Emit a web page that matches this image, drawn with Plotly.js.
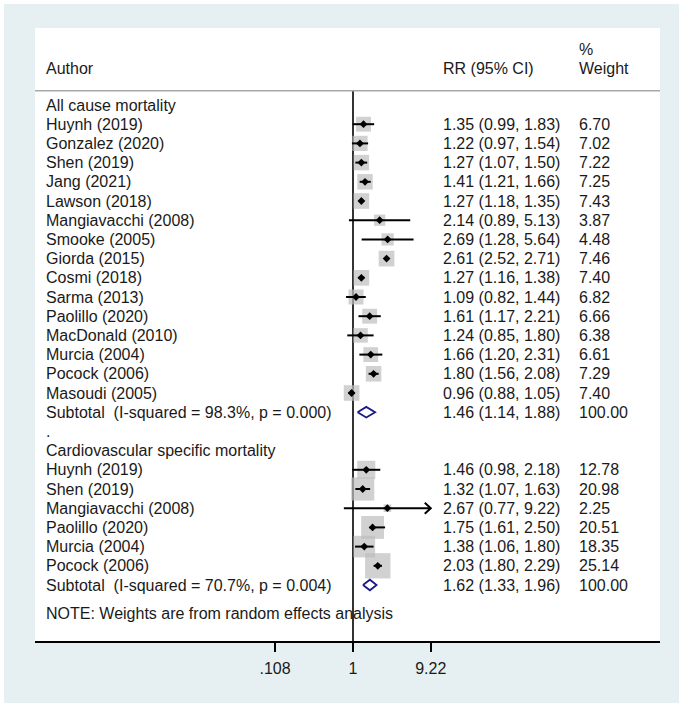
<!DOCTYPE html>
<html>
<head>
<meta charset="utf-8">
<script src="https://cdn.plot.ly/plotly-3.0.1.min.js"></script>
<style>html,body{margin:0;padding:0;background:#fff;}#chart{width:688px;height:708px;}</style>
</head>
<body>
<div id="chart"></div>
<script>
// ---------- data ----------
const group1Label = "All cause mortality";
const authors1 = ["Huynh (2019)","Gonzalez (2020)","Shen (2019)","Jang (2021)","Lawson (2018)","Mangiavacchi (2008)","Smooke (2005)","Giorda (2015)","Cosmi (2018)","Sarma (2013)","Paolillo (2020)","MacDonald (2010)","Murcia (2004)","Pocock (2006)","Masoudi (2005)"];
const rr1 = [1.35,1.22,1.27,1.41,1.27,2.14,2.69,2.61,1.27,1.09,1.61,1.24,1.66,1.80,0.96];
const lo1 = [0.99,0.97,1.07,1.21,1.18,0.89,1.28,2.52,1.16,0.82,1.17,0.85,1.20,1.56,0.88];
const hi1 = [1.83,1.54,1.50,1.66,1.35,5.13,5.64,2.71,1.38,1.44,2.21,1.80,2.31,2.08,1.05];
const w1  = [6.70,7.02,7.22,7.25,7.43,3.87,4.48,7.46,7.40,6.82,6.66,6.38,6.61,7.29,7.40];
const sub1Label = "Subtotal  (I-squared = 98.3%, p = 0.000)";
const sub1 = [1.46, 1.14, 1.88, 100.00]; // rr, lo, hi, weight

const group2Label = "Cardiovascular specific mortality";
const authors2 = ["Huynh (2019)","Shen (2019)","Mangiavacchi (2008)","Paolillo (2020)","Murcia (2004)","Pocock (2006)"];
const rr2 = [1.46,1.32,2.67,1.75,1.38,2.03];
const lo2 = [0.98,1.07,0.77,1.61,1.06,1.80];
const hi2 = [2.18,1.63,9.22,2.50,1.80,2.29];
const w2  = [12.78,20.98,2.25,20.51,18.35,25.14];
const sub2Label = "Subtotal  (I-squared = 70.7%, p = 0.004)";
const sub2 = [1.62, 1.33, 1.96, 100.00];

const noteText = "NOTE: Weights are from random effects analysis";
const tickVals = [0.108, 1, 9.22];
const tickText = [".108", "1", "9.22"];
const headAuthor = "Author", headRR = "RR (95% CI)", headPct = "%", headWeight = "Weight";

// ---------- layout geometry ----------
const W = 688, H = 708;
const plotL = 35, plotR = 660, plotT = 28, plotB = 641;
const pxPerDec = 80.6, nullPx = 353;
const rowPx = 19.2, row0Px = 105;
const pxToRow = py => (py - row0Px) / rowPx;
const pxToPaperX = px => (px - plotL) / (plotR - plotL);
const pxToPaperY = py => (plotB - py) / (plotB - plotT);
const xRange = [(plotL - nullPx) / pxPerDec, (plotR - nullPx) / pxPerDec];
const yRange = [pxToRow(plotB), pxToRow(plotT)];

const FONT = "Liberation Sans, Arial, Helvetica, sans-serif";
const TXT = "#1a1a1a";
const fmt = v => v.toFixed(2);

// build rows
const rows = [];
let r = 0;
rows.push({type:"head", label: group1Label, r: r++});
authors1.forEach((a,i) => rows.push({type:"study", label:a, rr:rr1[i], lo:lo1[i], hi:hi1[i], w:w1[i], k:5.75, r:r++}));
rows.push({type:"sub", label: sub1Label, rr:sub1[0], lo:sub1[1], hi:sub1[2], w:sub1[3], r:r++});
rows.push({type:"head", label: ".", r: r++});
rows.push({type:"head", label: group2Label, r: r++});
authors2.forEach((a,i) => rows.push({type:"study", label:a, rr:rr2[i], lo:lo2[i], hi:hi2[i], w:w2[i], k:5.05, r:r++}));
rows.push({type:"sub", label: sub2Label, rr:sub2[0], lo:sub2[1], hi:sub2[2], w:sub2[3], r:r++});
const noteRow = pxToRow(613);

const studies = rows.filter(d => d.type === "study");
const subs = rows.filter(d => d.type === "sub");

// ---------- traces ----------
const traces = [];
const lineTop = pxToRow(90.7);
// null line
traces.push({x:[1,1], y:[lineTop, yRange[0]], mode:"lines", line:{color:"#000", width:1.6}, hoverinfo:"skip"});
// weight boxes
traces.push({x: studies.map(d=>d.rr), y: studies.map(d=>d.r), mode:"markers",
  marker:{symbol:"square", color:"#bdbdbd", size: studies.map(d=>d.k*Math.sqrt(d.w)), line:{width:0}}, hoverinfo:"skip"});
// CI lines + arrows
const cx = [], cy = [];
const chev = Math.pow(10, 6/pxPerDec), chevH = 5.5/rowPx;
studies.forEach(d => {
  cx.push(d.lo, d.hi, null); cy.push(d.r, d.r, null);
  if (d.hi >= tickVals[tickVals.length-1]) {
    cx.push(d.hi/chev, d.hi, d.hi/chev, null);
    cy.push(d.r - chevH, d.r, d.r + chevH, null);
  }
});
traces.push({x:cx, y:cy, mode:"lines", line:{color:"#000", width:2}, hoverinfo:"skip", connectgaps:false});
// point estimates
traces.push({x: studies.map(d=>d.rr), y: studies.map(d=>d.r), mode:"markers",
  marker:{symbol:"diamond", color:"#000", size:6, line:{width:0}}, hoverinfo:"skip"});
// subtotal diamonds
const dh = 5.3/rowPx;
subs.forEach(d => {
  traces.push({x:[d.lo, d.rr, d.hi, d.rr, d.lo], y:[d.r, d.r-dh, d.r, d.r+dh, d.r], mode:"lines",
    line:{color:"#1a1a8a", width:1.8}, hoverinfo:"skip"});
});

// ---------- annotations ----------
const ann = [];
const xAuthor = pxToPaperX(44), xRR = pxToPaperX(441), xW = pxToPaperX(577);
function t(x, y, text) {
  ann.push({xref:"paper", yref:"y", x:x, y:y, text:text, showarrow:false, xanchor:"left", yanchor:"middle",
    font:{family:FONT, size:16, color:TXT}});
}
rows.forEach(d => {
  t(xAuthor, d.r, d.label);
  if (d.type !== "head") {
    t(xRR, d.r, fmt(d.rr) + " (" + fmt(d.lo) + ", " + fmt(d.hi) + ")");
    t(xW, d.r, fmt(d.w));
  }
});
t(xAuthor, noteRow, noteText);
t(xAuthor, pxToRow(68), headAuthor);
t(xRR, pxToRow(68), headRR);
t(xW, pxToRow(49), headPct);
t(xW, pxToRow(68), headWeight);

// ---------- shapes ----------
const shapes = [
  {type:"line", xref:"paper", yref:"y", x0:0, x1:1, y0:lineTop, y1:lineTop, line:{color:"#a8a8a8", width:1.5}, layer:"above"}
];
// outer white frame strips
const strip = (x0,x1,y0,y1) => shapes.push({type:"rect", xref:"paper", yref:"paper",
  x0:pxToPaperX(x0), x1:pxToPaperX(x1), y0:pxToPaperY(y1), y1:pxToPaperY(y0), fillcolor:"#ffffff", line:{width:0}, layer:"below"});
strip(0, 4, 0, H);
strip(679, W, 0, H);
strip(0, W, 0, 4);
strip(0, W, 703, H);

const layout = {
  width: W, height: H,
  margin: {l: plotL, r: W - plotR, t: plotT, b: H - plotB, pad: 0},
  paper_bgcolor: "#e6f0f2",
  plot_bgcolor: "#ffffff",
  showlegend: false,
  font: {family: FONT, size: 16, color: TXT},
  xaxis: {type:"log", range: xRange, showgrid:false, zeroline:false, showline:true, linecolor:"#000", linewidth:1.6,
    ticks:"outside", ticklen:9, tickwidth:1.6, tickcolor:"#000", tickvals: tickVals, ticktext: tickText,
    tickfont:{family:FONT, size:16, color:TXT}, ticklabelstandoff: 3, fixedrange:true},
  yaxis: {range: yRange, showgrid:false, zeroline:false, showline:false, showticklabels:false, ticks:"", fixedrange:true},
  annotations: ann,
  shapes: shapes
};

Plotly.newPlot("chart", traces, layout, {displayModeBar:false, staticPlot:true});
</script>
</body>
</html>
